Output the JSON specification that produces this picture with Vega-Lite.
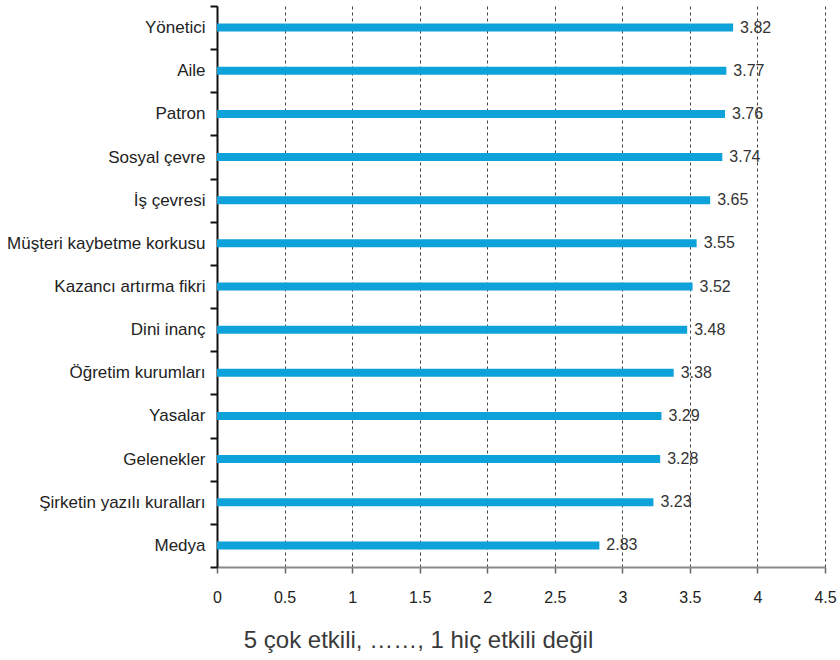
{
  "$schema": "https://vega.github.io/schema/vega-lite/v6.json",
  "autosize": "none",
  "width": 608,
  "height": 561,
  "padding": {"left": 217, "top": 6, "right": 15, "bottom": 93},
  "background": "white",
  "config": {
    "view": {"stroke": null},
    "font": "Liberation Sans"
  },
  "data": {
    "values": [
      {"etken": "Yönetici", "ortalama": 3.82},
      {"etken": "Aile", "ortalama": 3.77},
      {"etken": "Patron", "ortalama": 3.76},
      {"etken": "Sosyal çevre", "ortalama": 3.74},
      {"etken": "İş çevresi", "ortalama": 3.65},
      {"etken": "Müşteri kaybetme korkusu", "ortalama": 3.55},
      {"etken": "Kazancı artırma fikri", "ortalama": 3.52},
      {"etken": "Dini inanç", "ortalama": 3.48},
      {"etken": "Öğretim kurumları", "ortalama": 3.38},
      {"etken": "Yasalar", "ortalama": 3.29},
      {"etken": "Gelenekler", "ortalama": 3.28},
      {"etken": "Şirketin yazılı kuralları", "ortalama": 3.23},
      {"etken": "Medya", "ortalama": 2.83}
    ]
  },
  "encoding": {
    "y": {
      "field": "etken",
      "type": "nominal",
      "sort": {"field": "ortalama", "order": "descending"},
      "scale": {"paddingInner": 0, "paddingOuter": 0},
      "axis": {
        "title": null,
        "tickBand": "extent",
        "domainColor": "#111",
        "domainWidth": 2,
        "tickColor": "#111",
        "tickWidth": 2,
        "tickSize": 7,
        "labelPadding": 5,
        "labelFontSize": 17,
        "labelColor": "#222",
        "labelLimit": 400,
        "grid": false
      }
    },
    "x": {
      "field": "ortalama",
      "type": "quantitative",
      "scale": {"domain": [0, 4.5], "nice": false},
      "axis": {
        "values": [0, 0.5, 1, 1.5, 2, 2.5, 3, 3.5, 4, 4.5],
        "format": "~g",
        "title": "5 çok etkili, ……, 1 hiç etkili değil",
        "titleFont": "Liberation Sans",
        "titleFontSize": 24,
        "titleFontWeight": "normal",
        "titleColor": "#3a3a3a",
        "titleX": 201,
        "titleY": 73,
        "titleBaseline": "middle",
        "titleAnchor": "middle",
        "titleAlign": "center",
        "domainColor": "#888",
        "domainWidth": 2,
        "tickColor": "#666",
        "tickWidth": 1.5,
        "tickSize": 6,
        "labelPadding": 16,
        "labelFontSize": 16,
        "labelColor": "#222",
        "labelFlush": false,
        "grid": true,
        "gridColor": "#444",
        "gridWidth": 1,
        "gridDash": [3, 3]
      }
    }
  },
  "layer": [
    {
      "mark": {"type": "bar", "color": "#0ea2db", "height": 8}
    },
    {
      "mark": {"type": "text", "align": "left", "baseline": "middle", "dx": 7, "fontSize": 16, "color": "#333"},
      "encoding": {"text": {"field": "ortalama", "type": "quantitative", "format": ".2f"}}
    }
  ]
}
